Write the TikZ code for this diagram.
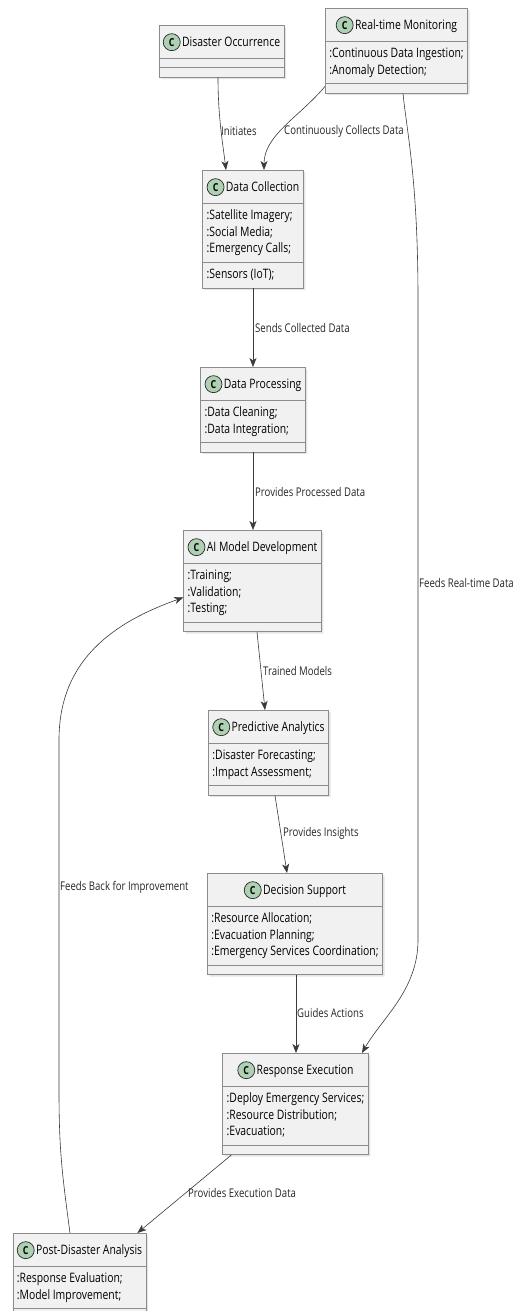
\documentclass[tikz,border=0pt]{standalone}
\usepackage{fontspec}
\setmainfont{Open Sans}[FakeStretch=0.8]
\usetikzlibrary{shapes.multipart,shadows,arrows.meta}

\definecolor{boxfill}{HTML}{F1F1F1}
\definecolor{boxline}{HTML}{8C8C8C}
\definecolor{spotfill}{HTML}{ADD1B2}
\definecolor{linkline}{HTML}{3A3A3A}

% class header: green C spot and name
\newcommand\spotc{\tikz[baseline=(c.base)]\node[circle,draw=black!85,fill=spotfill,line width=0.7pt,minimum size=17pt,inner sep=0pt,font=\fontsize{11}{11}\selectfont\bfseries] (c) {C};}
\newcommand\clsname[1]{\rule[-7pt]{0pt}{23pt}\spotc\hspace{1.5pt}#1}
% member lines
\renewcommand\arraystretch{0}
\newcommand\attr[1]{\rule[-4.5pt]{0pt}{16.5pt}#1}
\newcommand\attrs[1]{\begin{tabular}{@{}l@{}}#1\end{tabular}}
\newcommand\noattr{\textcolor{boxfill}{\rule{0.01pt}{0.01pt}}}

\begin{document}
\begin{tikzpicture}[x=1pt,y=-1pt,
    cls/.style={rectangle split,rectangle split parts=3,
      rectangle split part align={center,left,left},
      rectangle split empty part height=0.01pt,rectangle split empty part depth=0pt,
      draw=boxline,fill=boxfill,line width=0.6pt,inner xsep=4pt,inner ysep=4.5pt,
      anchor=north,font=\fontsize{13}{16.5}\selectfont,
      drop shadow={opacity=0.2,shadow xshift=2pt,shadow yshift=-2pt}},
    lbl/.style={anchor=west,inner xsep=1pt,inner ysep=0pt,text=black!85,font=\fontsize{12}{14}\selectfont},
    arr/.style={draw=linkline,line width=0.6pt,-{Stealth[length=9pt,width=7pt,inset=2.5pt]}}]
  \useasboundingbox[fill=white] (0,0) rectangle (515,1311);

  % classes
  \node[cls,minimum width=117pt] (do) at (221.5,25) {\clsname{Disaster Occurrence}\nodepart{two}\noattr\nodepart{three}\noattr};
  \node[cls,minimum width=139pt] (rtm) at (396.5,8) {\clsname{Real-time Monitoring}
    \nodepart{two}\attrs{\attr{:Continuous Data Ingestion;}\\\attr{:Anomaly Detection;}}\nodepart{three}\noattr};
  \node[cls,minimum width=92pt] (dc) at (253,170) {\clsname{Data Collection}
    \nodepart{two}\attrs{\attr{:Satellite Imagery;}\\\attr{:Social Media;}\\\attr{:Emergency Calls;}}
    \nodepart{three}\attrs{\attr{:Sensors (IoT);}}};
  \node[cls,minimum width=98pt] (dp) at (253,367) {\clsname{Data Processing}
    \nodepart{two}\attrs{\attr{:Data Cleaning;}\\\attr{:Data Integration;}}\nodepart{three}\noattr};
  \node[cls,minimum width=127pt] (ai) at (252.5,530) {\clsname{AI Model Development}
    \nodepart{two}\attrs{\attr{:Training;}\\\attr{:Validation;}\\\attr{:Testing;}}\nodepart{three}\noattr};
  \node[cls,minimum width=111pt] (pa) at (268.5,710) {\clsname{Predictive Analytics}
    \nodepart{two}\attrs{\attr{:Disaster Forecasting;}\\\attr{:Impact Assessment;}}\nodepart{three}\noattr};
  \node[cls,minimum width=174pt] (ds) at (295,873) {\clsname{Decision Support}
    \nodepart{two}\attrs{\attr{:Resource Allocation;}\\\attr{:Evacuation Planning;}\\\attr{:Emergency Services Coordination;}}\nodepart{three}\noattr};
  \node[cls,minimum width=145pt] (re) at (295.5,1053) {\clsname{Response Execution}
    \nodepart{two}\attrs{\attr{:Deploy Emergency Services;}\\\attr{:Resource Distribution;}\\\attr{:Evacuation;}}\nodepart{three}\noattr};
  \node[cls,minimum width=125pt] (pda) at (79.5,1233) {\clsname{Post-Disaster Analysis}
    \nodepart{two}\attrs{\attr{:Response Evaluation;}\\\attr{:Model Improvement;}}\nodepart{three}\noattr};

  % bends of the long links
  \coordinate (feedtop) at (418,300);
  \coordinate (feedbot) at (418,940);
  \coordinate (backbot) at (59,1090);
  \coordinate (backtop) at (59,740);

  % links
  \draw[arr] ([xshift=-3.5pt]do.south) .. controls +(0,40) and +(-3,-25) .. ([xshift=-27pt]dc.north);
  \draw[arr] ([shift={(0,-7)}]rtm.south west) .. controls +(-25,30) and +(0,-35) .. ([xshift=11pt]dc.north);
  \draw[arr] ([xshift=6.5pt]rtm.south) .. controls +(4,40) and +(0,-120) .. (feedtop) -- (feedbot)
    .. controls +(0,50) and +(20,-35) .. ([xshift=66.5pt]re.north);
  \draw[arr] (dc.south) -- (dp.north);
  \draw[arr] (dp.south) -- ([xshift=0.5pt]ai.north);
  \draw[arr] ([xshift=4.5pt]ai.south) -- ([xshift=-3.5pt]pa.north);
  \draw[arr] ([xshift=6.5pt]pa.south) -- ([xshift=-8pt]ds.north);
  \draw[arr] ([xshift=1pt]ds.south) -- ([xshift=0.5pt]re.north);
  \draw[arr] ([xshift=9pt]re.south west) -- ([xshift=-9pt]pda.north east);
  \draw[arr] ([xshift=-9.5pt]pda.north) .. controls +(-8,-60) and +(0,60) .. (backbot) -- (backtop)
    .. controls +(0,-80) and +(-70,25) .. ([shift={(0,16.5)}]ai.west);

  % link labels
  \node[lbl] (linit) at (220,131) {Initiates};
  \node[lbl] (lcont) at (283,131) {Continuously Collects Data};
  \node[lbl] (lsend) at (254,328) {Sends Collected Data};
  \node[lbl] (lproc) at (254,492) {Provides Processed Data};
  \node[lbl] (lfeed) at (418,583) {Feeds Real-time Data};
  \node[lbl] (ltrain) at (262,671) {Trained Models};
  \node[lbl] (lins) at (282,833) {Provides Insights};
  \node[lbl] (lback) at (59,887) {Feeds Back for Improvement};
  \node[lbl] (lguide) at (296,1013) {Guides Actions};
  \node[lbl] (lexec) at (187,1193) {Provides Execution Data};
\end{tikzpicture}
\end{document}
